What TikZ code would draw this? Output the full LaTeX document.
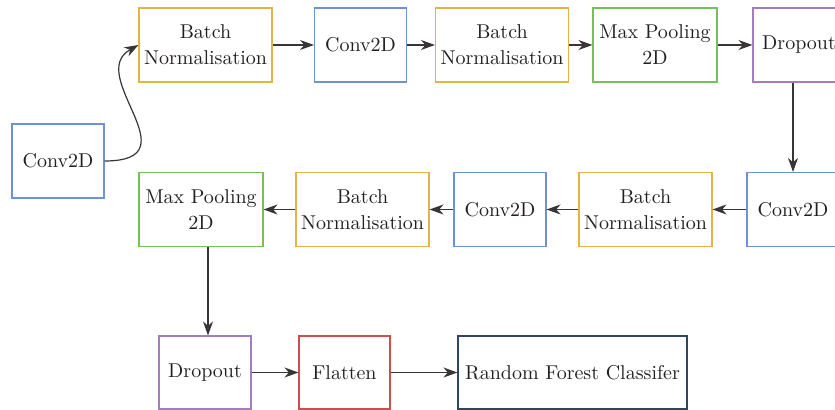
\documentclass[tikz,border=0pt]{standalone}
\usetikzlibrary{arrows.meta}

\definecolor{cgold}{RGB}{226,180,72}
\definecolor{cblue}{RGB}{108,145,212}
\definecolor{cgreen}{RGB}{118,192,88}
\definecolor{cpurple}{RGB}{164,124,194}
\definecolor{cred}{RGB}{204,78,78}
\definecolor{cnavy}{RGB}{48,70,96}
\definecolor{ink}{RGB}{35,31,32}

\tikzset{
  layer/.style={draw, line width=0.55pt, inner sep=0pt, align=center,
    minimum height=37pt, text=ink,
    font=\fontsize{10}{13}\selectfont},
  bnbox/.style={layer, draw=cgold, minimum width=66.5pt},
  convbox/.style={layer, draw=cblue, minimum width=46pt},
  poolbox/.style={layer, draw=cgreen, minimum width=62pt},
  dropbox/.style={layer, draw=cpurple, minimum width=46pt},
  flatbox/.style={layer, draw=cred, minimum width=45.5pt},
  rfbox/.style={layer, draw=cnavy, minimum width=114.5pt},
  flow/.style={draw=ink!90, line width=0.6pt,
    -{Stealth[length=7pt, width=5pt, inset=2.2pt]}}
}

\begin{document}
\begin{tikzpicture}[x=0.5pt, y=-0.5pt]
  \useasboundingbox (0,0) rectangle (835,410);

  % input convolution
  \node[convbox] (c1) at (58,161) {Conv2D};

  % first row, left to right
  \node[bnbox]   (bn1) at (205.5,45) {Batch\\Normalisation};
  \node[convbox] (c2)  at (360.5,45) {Conv2D};
  \node[bnbox]   (bn2) at (502,45)   {Batch\\Normalisation};
  \node[poolbox] (mp1) at (655,45)   {Max Pooling\\2D};
  \node[dropbox] (d1)  at (799,45)   {Dropout};

  % second row, right to left
  \node[convbox] (c5)  at (793,209.5)   {Conv2D};
  \node[bnbox]   (bn4) at (645.5,209.5) {Batch\\Normalisation};
  \node[convbox] (c4)  at (500,209.5)   {Conv2D};
  \node[bnbox]   (bn3) at (362.5,209.5) {Batch\\Normalisation};
  \node[poolbox] (mp2) at (201,209.5)   {Max Pooling\\2D};

  % classifier head
  \node[dropbox, minimum height=36.5pt] (d2)  at (205,372.5)   {Dropout};
  \node[flatbox, minimum height=36.5pt] (fl)  at (344.5,372.5) {Flatten};
  \node[rfbox,   minimum height=36.5pt] (rfc) at (572.5,372.5) {Random Forest Classifer};

  % connectors
  \draw[flow] (c1.east) .. controls +(90,0) and +(-54,30) .. (bn1.west);
  \draw[flow] (bn1) -- (c2);
  \draw[flow] (c2) -- (bn2);
  \draw[flow] (bn2) -- (mp1);
  \draw[flow] (mp1) -- (d1);
  \draw[flow] (d1.south -| c5.north) -- (c5.north);
  \draw[flow] (c5) -- (bn4);
  \draw[flow] (bn4) -- (c4);
  \draw[flow] (c4) -- (bn3);
  \draw[flow] (bn3) -- (mp2);
  \coordinate (dropin) at ([xshift=1.5pt]d2.north);
  \draw[flow] (mp2.south -| dropin) -- (dropin);
  \draw[flow] (d2) -- (fl);
  \draw[flow] (fl) -- (rfc);
\end{tikzpicture}
\end{document}
